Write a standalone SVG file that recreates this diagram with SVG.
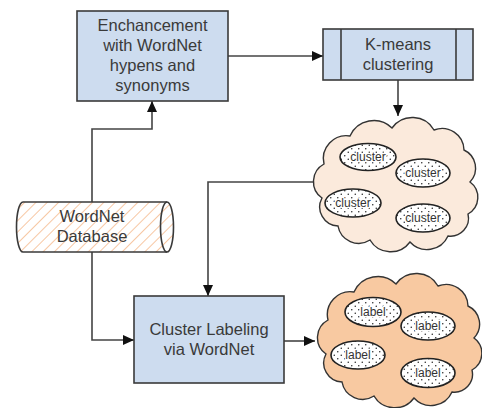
<svg xmlns="http://www.w3.org/2000/svg" width="482" height="408" viewBox="0 0 482 408">
<style>
.box{fill:#cddcef;stroke:#3a3a3a;stroke-width:1.6}
.t{font-family:"Liberation Sans",Arial,sans-serif;font-size:16.5px;fill:#3a3a3a;text-anchor:middle}
.s{font-family:"Liberation Sans",Arial,sans-serif;font-size:12px;fill:#333;text-anchor:middle;stroke:#ffffff;stroke-width:2.5;paint-order:stroke;stroke-linejoin:round}
.conn{fill:none;stroke:#444;stroke-width:1.6}
.ell{fill:url(#dots);stroke:#222;stroke-width:1.6}
.cloud{stroke:#333;stroke-width:1.4}
</style>
<defs>
<marker id="arr" markerUnits="userSpaceOnUse" markerWidth="12" markerHeight="10" refX="11" refY="5" orient="auto">
<path d="M0,0 L11,5 L0,10 Z" fill="#111"/>
</marker>
<pattern id="hatch" patternUnits="userSpaceOnUse" width="8" height="8" patternTransform="rotate(45)">
<rect width="8" height="8" fill="#ffffff"/>
<line x1="0" y1="0" x2="0" y2="8" stroke="#f5b98c" stroke-width="1.6"/>
</pattern>
<pattern id="dots" patternUnits="userSpaceOnUse" width="7" height="7">
<rect width="7" height="7" fill="#ffffff"/>
<circle cx="1.75" cy="1.75" r="0.75" fill="#222"/>
<circle cx="5.25" cy="5.25" r="0.75" fill="#222"/>
</pattern>
<path id="cloudShape" d="M14 50 A23 23 0 0 1 40 22 A26 26 0 0 1 82 14 A25 25 0 0 1 124 16 A22 22 0 0 1 154 36 A20 20 0 0 1 160 68 A19 19 0 0 1 158 100 A18 18 0 0 1 138 122 A23 23 0 0 1 100 128 A24 24 0 0 1 60 126 A21 21 0 0 1 28 112 A19 19 0 0 1 12 84 A20 20 0 0 1 14 50 Z"/>
</defs>

<g id="connectors">
<path class="conn" d="M228 56 H323" marker-end="url(#arr)"/>
<path class="conn" d="M398 80 V116" marker-end="url(#arr)"/>
<path class="conn" d="M92 202 V129 H152 V101" marker-end="url(#arr)"/>
<path class="conn" d="M92 252 V340 H134" marker-end="url(#arr)"/>
<path class="conn" d="M313 182 H208 V296" marker-end="url(#arr)"/>
<path class="conn" d="M284 341 H315" marker-end="url(#arr)"/>
</g>

<g id="enhancement">
<rect class="box" x="77" y="11" width="151" height="90"/>
<text class="t" x="152.5" y="31">Enchancement</text>
<text class="t" x="152.5" y="51">with WordNet</text>
<text class="t" x="152.5" y="71">hypens and</text>
<text class="t" x="152.5" y="91">synonyms</text>
</g>

<g id="kmeans">
<rect class="box" x="323" y="29" width="150" height="51"/>
<line x1="341" y1="29" x2="341" y2="80" stroke="#3a3a3a" stroke-width="1.6"/>
<line x1="456" y1="29" x2="456" y2="80" stroke="#3a3a3a" stroke-width="1.6"/>
<text class="t" x="398" y="50">K-means</text>
<text class="t" x="398" y="70">clustering</text>
</g>

<g id="wordnet-db">
<path d="M23 202 L167 202 A6.5 25 0 0 1 167 252 L23 252 A6.5 25 0 0 1 23 202 Z" fill="url(#hatch)" stroke="#3a3a3a" stroke-width="1.6"/>
<path d="M167 202 A6.5 25 0 0 0 167 252" fill="none" stroke="#3a3a3a" stroke-width="1.6"/>
<text class="t" x="92" y="222">WordNet</text>
<text class="t" x="92" y="242">Database</text>
</g>

<g id="cluster-labeling">
<rect class="box" x="134" y="296" width="150" height="87"/>
<text class="t" x="209" y="335">Cluster Labeling</text>
<text class="t" x="209" y="355">via WordNet</text>
</g>

<g id="clusters-cloud">
<use href="#cloudShape" class="cloud" fill="#fbeadc" transform="translate(310,114)"/>
<ellipse class="ell" cx="368" cy="157" rx="28" ry="13.5"/>
<text class="s" x="368" y="161">cluster</text>
<ellipse class="ell" cx="423" cy="173" rx="27" ry="14"/>
<text class="s" x="423" y="177">cluster</text>
<ellipse class="ell" cx="353" cy="203" rx="28" ry="14"/>
<text class="s" x="353" y="207">cluster</text>
<ellipse class="ell" cx="423" cy="218" rx="27" ry="14"/>
<text class="s" x="423" y="222">cluster</text>
</g>

<g id="labels-cloud">
<use href="#cloudShape" class="cloud" fill="#f8c9a1" transform="translate(314,270)"/>
<ellipse class="ell" cx="373" cy="312" rx="28" ry="14.5"/>
<text class="s" x="373" y="316">label</text>
<ellipse class="ell" cx="428" cy="326" rx="27" ry="14"/>
<text class="s" x="428" y="330">label</text>
<ellipse class="ell" cx="358" cy="355" rx="27" ry="14"/>
<text class="s" x="358" y="359">label</text>
<ellipse class="ell" cx="428" cy="373" rx="27" ry="14.5"/>
<text class="s" x="428" y="377">label</text>
</g>
</svg>
